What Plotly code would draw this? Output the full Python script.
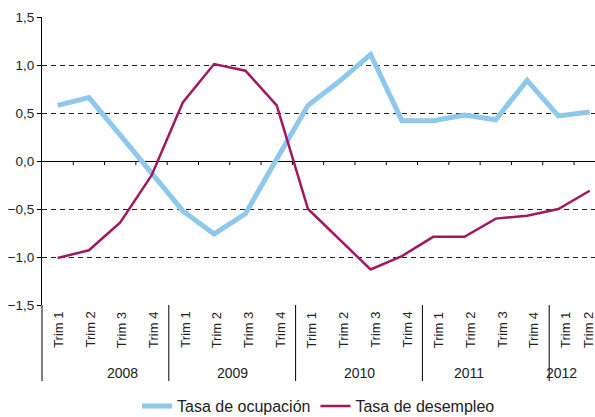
import plotly.graph_objects as go

years = ["2008", "2009", "2010", "2011", "2012"]
quarters_per_year = [4, 4, 4, 4, 2]
quarter_labels = ["Trim 1", "Trim 2", "Trim 3", "Trim 4"] * 4 + ["Trim 1", "Trim 2"]
ocupacion = [0.58, 0.66, 0.27, -0.12, -0.52, -0.76, -0.55, 0.02, 0.58, 0.83,
             1.11, 0.42, 0.42, 0.48, 0.43, 0.84, 0.47, 0.51]
desempleo = [-1.01, -0.93, -0.64, -0.15, 0.61, 1.01, 0.94, 0.58, -0.50, -0.81,
             -1.13, -0.99, -0.79, -0.79, -0.60, -0.57, -0.50, -0.31]
y_ticks = [-1.5, -1.0, -0.5, 0.0, 0.5, 1.0, 1.5]

FONT = "Liberation Sans, Arial, sans-serif"
TXT = "#222222"
BLUE = "#8EC8EC"
RED = "#A0195F"

W, H = 595, 417
ML, MR, MT, MB = 42, 0, 17, 112
PLOT_W = W - ML - MR
PLOT_H = H - MT - MB
BAND_STEP = 31.7  # px per quarter in the category band under the chart
BAND_MAX = (PLOT_W - 7) / PLOT_W  # keep the last quarter label inside the page
YEAR_MAX = (PLOT_W - 16) / PLOT_W  # keep the last year label inside the page

xs = list(range(len(quarter_labels)))

fig = go.Figure()
fig.add_trace(go.Scatter(x=xs, y=ocupacion, mode="lines", name="Tasa de ocupación",
                         line=dict(color=BLUE, width=5)))
fig.add_trace(go.Scatter(x=xs, y=desempleo, mode="lines", name="Tasa de desempleo",
                         line=dict(color=RED, width=2.5)))

# category tick marks on the zero line
for b in xs:
    fig.add_shape(type="line", xref="x", yref="y", ysizemode="pixel", yanchor=0,
                  x0=b + 0.5, x1=b + 0.5, y0=0, y1=-4, line=dict(color="#000", width=1),
                  layer="above")


def band_x(v):
    return (v + 0.5) * BAND_STEP / PLOT_W


# quarter labels in the band
for i, lab in enumerate(quarter_labels):
    fig.add_annotation(x=min(band_x(i), BAND_MAX), y=-5 / PLOT_H, xref="paper", yref="paper",
                       text=lab, textangle=-90, showarrow=False, xanchor="center",
                       yanchor="top", font=dict(family=FONT, size=13, color=TXT))

# year dividers and labels
bounds = [-0.5]
for q in quarters_per_year:
    bounds.append(bounds[-1] + q)
for i, yr in enumerate(years):
    fig.add_shape(type="line", xref="paper", yref="paper", x0=band_x(bounds[i]),
                  x1=band_x(bounds[i]), y0=0, y1=-76 / PLOT_H,
                  line=dict(color="#000", width=1))
    fig.add_annotation(x=min(band_x((bounds[i] + bounds[i + 1]) / 2), YEAR_MAX),
                       y=-68 / PLOT_H, xref="paper", yref="paper", text=yr, showarrow=False,
                       font=dict(family=FONT, size=14, color=TXT), yanchor="middle")

fig.update_layout(
    width=W, height=H,
    margin=dict(l=ML, r=MR, t=MT, b=MB),
    paper_bgcolor="white", plot_bgcolor="white",
    separators=",.",
    showlegend=True,
    legend=dict(orientation="h", x=0.5, xanchor="center", yref="container", y=0.026,
                yanchor="middle", font=dict(family=FONT, size=16, color=TXT), itemwidth=30,
                tracegroupgap=0, bgcolor="rgba(0,0,0,0)"),
    xaxis=dict(range=[-0.5, 17.17], showticklabels=False,
               showgrid=False, zeroline=False, showline=False, ticks="", automargin=False),
    yaxis=dict(range=[-1.5, 1.5], tickvals=y_ticks, tickformat=".1f", automargin=False,
               showgrid=True, gridcolor="#222", griddash="5px,4px", gridwidth=1,
               zeroline=True, zerolinecolor="#000", zerolinewidth=1,
               showline=True, linecolor="#000", linewidth=1,
               ticks="outside", ticklen=4, tickcolor="#000",
               tickfont=dict(family=FONT, size=13.5, color=TXT)),
)

fig.write_html("out.html", config={"displayModeBar": False},
               post_script="document.body.style.margin='0';")
